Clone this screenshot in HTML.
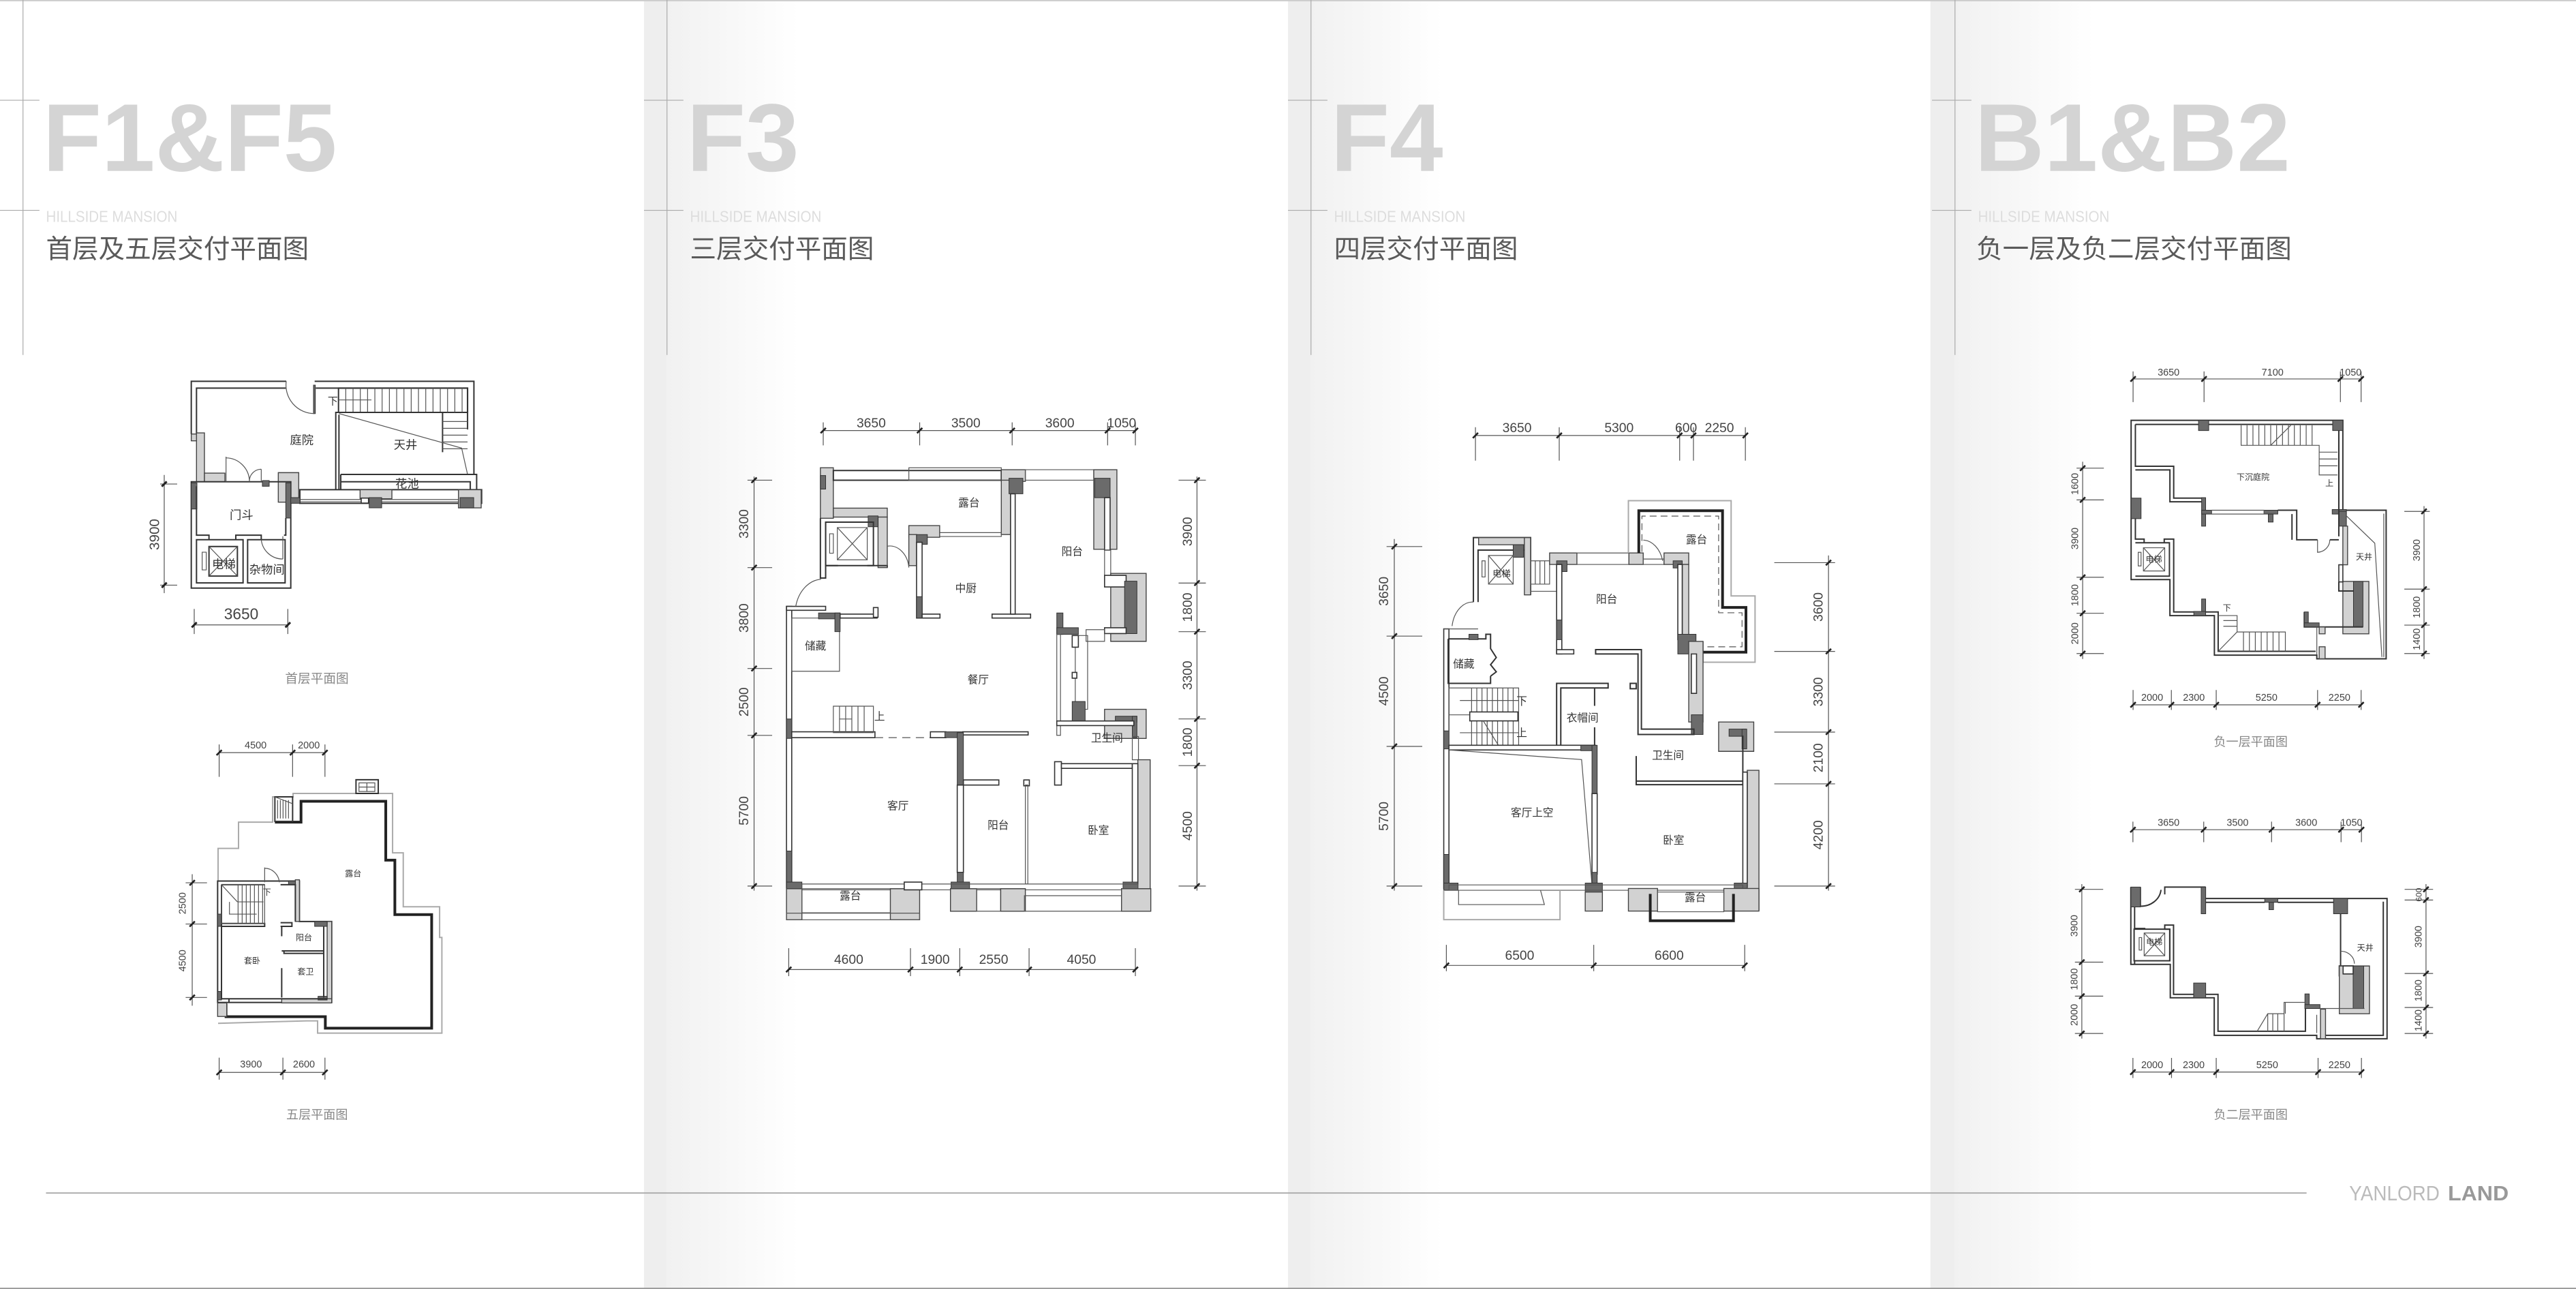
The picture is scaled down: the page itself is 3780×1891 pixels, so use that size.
<!DOCTYPE html>
<html><head><meta charset="utf-8"><style>
html,body{margin:0;padding:0;background:#fff}
svg{display:block}
.l{fill:none;stroke:#333;stroke-width:2;vector-effect:non-scaling-stroke}
.t{fill:none;stroke:#555;stroke-width:1.2;vector-effect:non-scaling-stroke}
.g{fill:none;stroke:#aaa;stroke-width:2;vector-effect:non-scaling-stroke}
.w{fill:#fff;stroke:#333;stroke-width:1.6;vector-effect:non-scaling-stroke}
.h{fill:#d2d2d2;stroke:#444;stroke-width:1.4;vector-effect:non-scaling-stroke}
.k{fill:#6b6b6b;stroke:#333;stroke-width:1;vector-effect:non-scaling-stroke}
.rl{fill:none;stroke:#222;stroke-width:4;vector-effect:non-scaling-stroke}
.dm{stroke:#555;stroke-width:0.5;fill:none}
.tk{stroke:#222;stroke-width:1.1}
text{font-family:"Liberation Sans","Noto Sans CJK SC",sans-serif}
.lb{fill:#333;font-size:6.5px;text-anchor:middle;dominant-baseline:central}
.ls{fill:#333;font-size:5px;text-anchor:middle;dominant-baseline:central}
.dn{fill:#444;font-size:8px;text-anchor:middle}
.ds{fill:#444;font-size:6px;text-anchor:middle}
.cap{fill:#888;font-size:7.5px;text-anchor:middle}
.big{fill:#d4d4d4;font-size:58.6px;font-weight:bold}
.hm{fill:#ddd;font-size:9.5px}
.sub{fill:#5a5a5a;font-size:16px}
</style></head><body>
<svg width="3780" height="1891" viewBox="0 0 1568 784.4" preserveAspectRatio="none" xmlns="http://www.w3.org/2000/svg">
<defs>
<linearGradient id="pg" x1="0" x2="1" y1="0" y2="0"><stop offset="0" stop-color="#f1f1f1"/><stop offset="1" stop-color="#fff"/></linearGradient>
<path id="tk" d="M-1.6 1.6L1.6 -1.6" class="tk"/>
</defs>
<rect x="0" y="0" width="1568" height="784.4" fill="#fff"/>
<!-- panel shading -->
<rect x="392" y="0" width="14" height="784.4" fill="#eee"/><rect x="406" y="0" width="80" height="784.4" fill="url(#pg)"/>
<rect x="784" y="0" width="14" height="784.4" fill="#eee"/><rect x="798" y="0" width="80" height="784.4" fill="url(#pg)"/>
<rect x="1175" y="0" width="15" height="784.4" fill="#eee"/><rect x="1190" y="0" width="85" height="784.4" fill="url(#pg)"/>
<line x1="0" y1="0.4" x2="1568" y2="0.4" stroke="#ccc" stroke-width="0.8"/>
<line x1="0" y1="784" x2="1568" y2="784" stroke="#999" stroke-width="0.8"/>
<!-- header lines -->
<g stroke="#aaa" stroke-width="0.5">
<line x1="14" y1="0" x2="14" y2="216"/><line x1="0" y1="61" x2="24" y2="61"/><line x1="0" y1="128" x2="24" y2="128"/>
<line x1="406" y1="0" x2="406" y2="216"/><line x1="392" y1="61" x2="416" y2="61"/><line x1="392" y1="128" x2="416" y2="128"/>
<line x1="798" y1="0" x2="798" y2="216"/><line x1="784" y1="61" x2="808" y2="61"/><line x1="784" y1="128" x2="808" y2="128"/>
<line x1="1190" y1="0" x2="1190" y2="216"/><line x1="1176" y1="61" x2="1200" y2="61"/><line x1="1176" y1="128" x2="1200" y2="128"/>
</g>
<text class="big" x="26" y="104">F1&amp;F5</text>
<text class="big" x="418" y="104">F3</text>
<text class="big" x="810" y="104">F4</text>
<text class="big" x="1202" y="104">B1&amp;B2</text>
<text class="hm" x="28" y="135" textLength="80" lengthAdjust="spacingAndGlyphs">HILLSIDE MANSION</text>
<text class="hm" x="420" y="135" textLength="80" lengthAdjust="spacingAndGlyphs">HILLSIDE MANSION</text>
<text class="hm" x="812" y="135" textLength="80" lengthAdjust="spacingAndGlyphs">HILLSIDE MANSION</text>
<text class="hm" x="1204" y="135" textLength="80" lengthAdjust="spacingAndGlyphs">HILLSIDE MANSION</text>
<text class="sub" x="28" y="157">首层及五层交付平面图</text>
<text class="sub" x="420" y="157">三层交付平面图</text>
<text class="sub" x="812" y="157">四层交付平面图</text>
<text class="sub" x="1203" y="157">负一层及负二层交付平面图</text>
<!-- footer -->
<line x1="28" y1="726" x2="1404" y2="726" stroke="#aaa" stroke-width="0.8"/>
<text x="1430" y="730.5" font-size="12.5" fill="#bbb" font-weight="normal" textLength="55" lengthAdjust="spacingAndGlyphs">YANLORD</text>
<text x="1490" y="730.5" font-size="12.5" fill="#999" font-weight="bold" textLength="37" lengthAdjust="spacingAndGlyphs">LAND</text>

<!-- ================= F1 ================= -->
<g transform="translate(107.85 224) scale(0.1383)">
<path class="l" d="M62 290V58H480M605 58H1306V468M85 290V88H478M610 88H1278V270"/>
<rect class="k" x="600" y="75" width="8" height="125"/>
<path class="t" d="M480 58A125 125 0 0 0 605 200"/>
<rect class="l" x="710" y="88" width="568" height="107"/>
<path class="t" d="M742 88V195M774 88V195M806 88V195M838 88V195M870 88V195M902 88V195M934 88V195M966 88V195M998 88V195M1030 88V195M1062 88V195M1094 88V195M1126 88V195M1158 88V195M1190 88V195M1222 88V195M1254 88V195M710 140H855"/>
<text x="685" y="160" font-size="45" fill="#333" text-anchor="middle">下</text>
<path class="l" d="M698 535V195H1168V370M712 535V205"/>
<path class="t" d="M712 200L1252 352L1278 468M1168 235H1278M1168 265H1278M1168 295H1278M1168 325H1278M1168 355H1278"/>
<path class="l" d="M720 468H1318V535M720 500H1290V535M720 468V535"/>
<rect class="l" x="540" y="535" width="800" height="60"/>
<path class="t" d="M540 578H1340M540 588H1340"/>
<rect class="h" x="805" y="535" width="140" height="40"/><rect class="h" x="1238" y="535" width="100" height="80"/>
<rect class="k" x="845" y="570" width="55" height="45"/><rect class="k" x="1245" y="570" width="60" height="45"/>
<rect class="w" x="810" y="572" width="32" height="22"/>
<rect class="h" x="85" y="285" width="35" height="215"/><rect class="h" x="120" y="462" width="90" height="38"/><rect class="h" x="62" y="290" width="23" height="30"/>
<rect class="h" x="445" y="460" width="90" height="130"/>
<rect class="l" x="62" y="500" width="438" height="468"/>
<rect class="k" x="62" y="505" width="25" height="115"/><rect class="k" x="478" y="505" width="22" height="155"/><rect class="k" x="500" y="570" width="40" height="25"/>
<rect class="k" x="375" y="495" width="30" height="25"/>
<path class="l" d="M85 520V735H140V755M478 660V735H470M258 755V735H370V755"/>
<rect class="l" x="85" y="755" width="205" height="190"/><rect class="l" x="310" y="755" width="165" height="190"/>
<rect class="l" x="140" y="785" width="125" height="130"/><path class="t" d="M140 785L265 915M265 785L140 915"/>
<rect class="t" x="110" y="810" width="18" height="78"/>
<path class="t" d="M215 390V500M215 395A105 105 0 0 1 318 500M370 445V500M318 500A52 52 0 0 1 370 445M370 755A95 95 0 0 0 465 840M465 740V840"/>
<g fill="#333" font-size="52" text-anchor="middle">
<text x="548" y="335">庭院</text><text x="1005" y="355">天井</text><text x="1012" y="527">花池</text>
<text x="283" y="665">门斗</text><text x="205" y="880">电梯</text><text x="395" y="905">杂物间</text>
</g>
<path class="t" d="M75 1130H487M75 1060V1170M487 1060V1170M-57 470V990M-75 510H0M-75 955H0"/>
<path d="M64 1141L86 1119M476 1141L498 1119M-68 521L-46 499M-68 966L-46 944" stroke="#222" stroke-width="9"/>
<text x="282" y="1105" font-size="68" fill="#444" text-anchor="middle">3650</text>
<text transform="translate(-80 732) rotate(-90)" font-size="62" fill="#444" text-anchor="middle">3900</text>
<text x="615" y="1385" font-size="56" fill="#888" text-anchor="middle">首层平面图</text>
</g>

<!-- ================= F5 ================= -->
<g transform="translate(120.3 445.8) scale(0.1383 0.1493)">
<path class="g" d="M90 605V472H180V365H330V262H420V248H858V490H905V710H1065V835H1075V1225H528V1175H480L90 1185"/>
<path class="rl" d="M340 365H455V280H828V520H868V742H1030V1205H562V1158H125V1105"/>
<rect class="l" x="697" y="192" width="98" height="56"/><rect class="t" x="710" y="205" width="70" height="35"/>
<path class="t" d="M745 205V240M710 222H780"/>
<rect class="l" x="340" y="262" width="78" height="100"/>
<path class="t" d="M352 275V350M364 275V350M376 275V350M388 275V350M400 275V350M340 262L418 290"/>
<path class="l" d="M88 605H448V770H590V1100H88Z"/>
<rect class="h" x="430" y="600" width="18" height="170"/><rect class="h" x="570" y="770" width="20" height="330"/>
<rect class="h" x="370" y="1085" width="220" height="17"/><rect class="h" x="88" y="1102" width="40" height="55"/>
<rect class="k" x="88" y="740" width="17" height="50"/><rect class="k" x="88" y="1055" width="17" height="35"/><rect class="k" x="400" y="605" width="30" height="15"/>
<rect class="k" x="515" y="770" width="55" height="20"/><rect class="k" x="530" y="1075" width="40" height="15"/>
<path class="l" d="M105 620V1085H570M105 620H295M365 620H430V770M105 778H295V790H105M365 775H415V790H365M370 790V830M370 890H555V900H380V890M370 960V1080M555 790V1080M138 1085V1100"/>
<rect class="t" x="105" y="620" width="190" height="158"/>
<path class="t" d="M178 620V778M196 620V778M214 620V778M232 620V778M250 620V778M268 620V778M286 620V778M105 620L175 690M175 690H290M140 690V740H260"/>
<path class="t" d="M295 550V610M295 553A65 65 0 0 1 360 610"/>
</g>
<g class="ls"><text x="215" y="531.6">露台</text><text x="185" y="570.5">阳台</text><text x="153.5" y="584.7">套卧</text><text x="186" y="591.4">套卫</text><text x="162.5" y="543">下</text></g>
<path class="dm" d="M133.4 458H197.8M133.4 453V472.7M178.1 453V472.7M197.8 453V472.7M133.4 652.6H197.8M133.4 643.6V657M172.2 643.6V657M197.8 643.6V657M117 532V612M113 537.2H126M113 562.3H126M113 607H126"/>
<use href="#tk" x="133.4" y="458"/><use href="#tk" x="178.1" y="458"/><use href="#tk" x="197.8" y="458"/>
<use href="#tk" x="133.4" y="652.6"/><use href="#tk" x="172.2" y="652.6"/><use href="#tk" x="197.8" y="652.6"/>
<use href="#tk" x="117" y="537.2"/><use href="#tk" x="117" y="562.3"/><use href="#tk" x="117" y="607"/>
<g class="ds"><text x="155.6" y="455.5">4500</text><text x="188" y="455.5">2000</text><text x="152.8" y="649.5">3900</text><text x="185" y="649.5">2600</text>
<text transform="translate(113 549.7) rotate(-90)">2500</text><text transform="translate(113 584.6) rotate(-90)">4500</text></g>
<text class="cap" x="193" y="681">五层平面图</text>

<!-- ================= F3 ================= -->
<g transform="translate(456.6 235.5) scale(0.1876 0.2363)">
<rect class="h" x="228" y="208" width="42" height="130"/><rect class="h" x="270" y="312" width="175" height="23"/><rect class="h" x="415" y="335" width="30" height="130"/>
<rect class="k" x="228" y="228" width="17" height="35"/><rect class="k" x="383" y="332" width="32" height="28"/>
<path class="l" d="M228 338V492H245V460H285M380 460H445V465M245 348V460"/>
<rect class="l" x="245" y="348" width="155" height="112"/>
<rect class="t" x="283" y="362" width="97" height="83"/><path class="t" d="M283 362L380 445M380 362L283 445"/><rect class="t" x="258" y="378" width="12" height="50"/>
<rect class="l" x="270" y="215" width="545" height="25"/><rect class="t" x="515" y="208" width="300" height="32"/>
<rect class="h" x="815" y="213" width="78" height="30"/><rect class="h" x="815" y="240" width="30" height="140"/><rect class="k" x="840" y="235" width="45" height="40"/>
<rect class="h" x="515" y="357" width="100" height="30"/><rect class="h" x="515" y="380" width="25" height="80"/><rect class="k" x="540" y="380" width="35" height="25"/>
<rect class="w" x="540" y="400" width="18" height="195"/><rect class="k" x="540" y="540" width="18" height="55"/>
<rect class="w" x="558" y="585" width="58" height="10"/><rect class="w" x="785" y="585" width="125" height="10"/><rect class="w" x="845" y="275" width="15" height="310"/>
<rect class="t" x="615" y="375" width="200" height="10"/>
<rect class="t" x="893" y="213" width="222" height="27"/><rect class="h" x="1115" y="213" width="75" height="205"/><rect class="k" x="1118" y="235" width="50" height="50"/>
<rect class="w" x="1150" y="285" width="18" height="135"/><rect class="t" x="1150" y="420" width="20" height="70"/>
<rect class="h" x="1170" y="480" width="115" height="175"/><rect class="w" x="1150" y="485" width="70" height="30"/><rect class="k" x="1215" y="500" width="40" height="135"/>
<rect class="w" x="1150" y="620" width="70" height="15"/><rect class="k" x="995" y="582" width="20" height="55"/><rect class="k" x="995" y="620" width="70" height="17"/>
<rect class="t" x="1090" y="625" width="60" height="30"/>
<rect class="t" x="995" y="637" width="12" height="260"/><rect class="t" x="1055" y="640" width="40" height="190"/>
<rect class="w" x="1045" y="640" width="20" height="30"/><rect class="w" x="1045" y="735" width="15" height="15"/><rect class="k" x="1045" y="810" width="42" height="50"/>
<rect class="h" x="1150" y="830" width="135" height="75"/><rect class="k" x="1185" y="848" width="70" height="15"/><rect class="k" x="1240" y="848" width="15" height="55"/>
<rect class="w" x="995" y="860" width="250" height="12"/><rect class="t" x="1240" y="900" width="20" height="60"/>
<rect class="w" x="988" y="965" width="22" height="60"/><rect class="w" x="1010" y="970" width="230" height="12"/>
<rect class="h" x="1258" y="960" width="40" height="390"/><rect class="w" x="1240" y="970" width="18" height="310"/><rect class="k" x="1210" y="1275" width="48" height="30"/>
<rect class="w" x="118" y="565" width="17" height="725"/><rect class="k" x="118" y="855" width="17" height="50"/><rect class="k" x="118" y="1195" width="17" height="95"/><rect class="k" x="118" y="1275" width="50" height="20"/>
<rect class="t" x="135" y="595" width="155" height="137"/><rect class="w" x="118" y="565" width="127" height="10"/>
<rect class="k" x="222" y="582" width="70" height="15"/><rect class="k" x="275" y="582" width="17" height="48"/><rect class="w" x="292" y="585" width="120" height="10"/><rect class="w" x="400" y="568" width="15" height="25"/>
<path class="t" d="M148 565A90 90 0 0 1 230 495M445 410A62 62 0 0 1 515 465M445 410V465"/>
<rect class="w" x="135" y="888" width="270" height="15"/><path class="t" d="M405 903H585" stroke-dasharray="12 8"/>
<rect class="w" x="585" y="888" width="50" height="15"/><rect class="k" x="632" y="888" width="58" height="15"/><rect class="w" x="690" y="888" width="212" height="8"/>
<rect class="k" x="672" y="890" width="20" height="135"/><rect class="w" x="672" y="1025" width="20" height="225"/><rect class="k" x="672" y="1250" width="20" height="45"/><rect class="k" x="652" y="1275" width="60" height="20"/>
<rect class="w" x="692" y="1012" width="115" height="13"/><rect class="w" x="888" y="1012" width="18" height="15"/><rect class="t" x="893" y="1025" width="8" height="255"/>
<rect class="t" x="270" y="822" width="130" height="68"/><path class="t" d="M290 822V890M310 822V890M330 822V890M350 822V890M370 822V890M290 855H330"/>
<rect class="t" x="168" y="1280" width="1090" height="15"/>
<rect class="h" x="118" y="1292" width="50" height="80"/><rect class="t" x="168" y="1292" width="335" height="62"/><rect class="h" x="455" y="1292" width="95" height="80"/><rect class="t" x="118" y="1355" width="432" height="17"/>
<rect class="w" x="500" y="1275" width="57" height="20"/>
<rect class="h" x="650" y="1292" width="85" height="58"/><rect class="t" x="735" y="1292" width="78" height="58"/><rect class="h" x="813" y="1292" width="80" height="58"/><rect class="t" x="890" y="1310" width="320" height="40"/><rect class="h" x="1205" y="1292" width="95" height="58"/>
</g>
<g class="lb"><text x="589.8" y="306.4">露台</text><text x="652.6" y="335.9">阳台</text><text x="587.9" y="358.4">中厨</text><text x="496.4" y="393.4">储藏</text>
<text x="595.4" y="413.9">餐厅</text><text x="535.4" y="436.4">上</text><text x="673.8" y="449.4">卫生间</text><text x="546.6" y="490.7">客厅</text>
<text x="607.6" y="502.5">阳台</text><text x="668.6" y="505.6">卧室</text><text x="517.6" y="545.5">露台</text></g>
<path class="dm" d="M501.1 262H691.1M501.1 257V271M559.8 257V271M616.1 257V271M674.2 257V271M691.1 257V271
M728.6 290V542M717.4 292.2H734M717.4 354.8H734M717.4 384.4H734M717.4 437.5H734M717.4 465.9H734M717.4 539.2H734
M459 290V542M455 292.2H470M455 345.4H470M455 406.8H470M455 447.5H470M455 539.2H470
M480.1 590H691.1M480.1 577V594M554.2 577V594M584.2 577V594M626.4 577V594M691.1 577V594"/>
<use href="#tk" x="501.1" y="262"/><use href="#tk" x="559.8" y="262"/><use href="#tk" x="616.1" y="262"/><use href="#tk" x="674.2" y="262"/><use href="#tk" x="691.1" y="262"/>
<use href="#tk" x="728.6" y="292.2"/><use href="#tk" x="728.6" y="354.8"/><use href="#tk" x="728.6" y="384.4"/><use href="#tk" x="728.6" y="437.5"/><use href="#tk" x="728.6" y="465.9"/><use href="#tk" x="728.6" y="539.2"/>
<use href="#tk" x="459" y="292.2"/><use href="#tk" x="459" y="345.4"/><use href="#tk" x="459" y="406.8"/><use href="#tk" x="459" y="447.5"/><use href="#tk" x="459" y="539.2"/>
<use href="#tk" x="480.1" y="590"/><use href="#tk" x="554.2" y="590"/><use href="#tk" x="584.2" y="590"/><use href="#tk" x="626.4" y="590"/><use href="#tk" x="691.1" y="590"/>
<g class="dn"><text x="530.3" y="260">3650</text><text x="587.9" y="260">3500</text><text x="645.1" y="260">3600</text><text x="682.7" y="260">1050</text>
<text x="516.6" y="586.5">4600</text><text x="569.2" y="586.5">1900</text><text x="604.8" y="586.5">2550</text><text x="658.3" y="586.5">4050</text>
<text transform="translate(725.5 323.5) rotate(-90)">3900</text><text transform="translate(725.5 369.6) rotate(-90)">1800</text><text transform="translate(725.5 411) rotate(-90)">3300</text><text transform="translate(725.5 451.7) rotate(-90)">1800</text><text transform="translate(725.5 502.6) rotate(-90)">4500</text>
<text transform="translate(455.5 318.8) rotate(-90)">3300</text><text transform="translate(455.5 376.1) rotate(-90)">3800</text><text transform="translate(455.5 427.2) rotate(-90)">2500</text><text transform="translate(455.5 493.4) rotate(-90)">5700</text></g>

<!-- ================= F4 ================= -->
<g transform="translate(834.8 247.6) scale(0.1583 0.2179)">
<path class="l" d="M392 545V365H612V525M410 545V400H590V515"/>
<rect class="h" x="412" y="365" width="200" height="20"/><rect class="h" x="588" y="365" width="24" height="160"/><rect class="k" x="545" y="385" width="40" height="35"/>
<rect class="t" x="450" y="415" width="95" height="80"/><path class="t" d="M450 415L545 495M545 415L450 495"/><rect class="t" x="425" y="430" width="12" height="45"/>
<rect class="t" x="612" y="430" width="73" height="65"/><path class="t" d="M630 430V495M648 430V495M666 430V495M612 515H710"/>
<rect class="h" x="685" y="408" width="105" height="32"/><rect class="t" x="790" y="408" width="200" height="32"/><rect class="h" x="990" y="408" width="55" height="32"/><rect class="t" x="1045" y="425" width="80" height="15"/><rect class="h" x="1125" y="408" width="95" height="32"/>
<rect class="k" x="712" y="430" width="40" height="30"/><rect class="k" x="1160" y="430" width="35" height="20"/>
<rect class="w" x="712" y="440" width="20" height="250"/><rect class="k" x="712" y="595" width="20" height="55"/><rect class="w" x="712" y="678" width="66" height="12"/>
<rect class="h" x="1195" y="440" width="25" height="215"/><rect class="w" x="1178" y="440" width="17" height="210"/><rect class="k" x="1178" y="635" width="70" height="55"/>
<path class="g" d="M988 408V262H1383V528H1475V713H1275V655"/>
<path class="rl" d="M1028 408V290H1350V560H1440V685H1245"/>
<path class="t" d="M1040 405V305H1335V575H1425V670H1250" stroke-dasharray="10 6"/>
<path class="t" d="M1045 372A80 80 0 0 1 1120 430"/>
<rect class="h" x="1220" y="655" width="55" height="225"/><rect class="w" x="1230" y="690" width="20" height="110"/><rect class="k" x="1230" y="860" width="45" height="55"/>
<rect class="w" x="278" y="620" width="20" height="725"/><rect class="k" x="278" y="905" width="20" height="50"/><rect class="k" x="278" y="1250" width="20" height="95"/><rect class="k" x="278" y="1330" width="55" height="20"/>
<path class="t" d="M310 612A80 80 0 0 1 392 545M278 620H410"/>
<path class="l" d="M295 648V772H458V752M295 648H440V635H458V675L480 700L458 720L480 740L458 752"/><rect class="k" x="375" y="635" width="35" height="15"/>
<rect class="t" x="298" y="785" width="268" height="160"/>
<path class="t" d="M385 785V945M405 785V945M425 785V945M445 785V945M465 785V945M485 785V945M505 785V945M525 785V945M545 785V945M298 860H380M340 820H566M340 910H566"/>
<rect class="w" x="378" y="852" width="185" height="25"/><path class="t" d="M430 877L488 945"/>
<rect class="w" x="298" y="945" width="562" height="13"/><rect class="k" x="805" y="945" width="60" height="15"/>
<path class="t" d="M298 958L808 985L848 1335"/>
<rect class="k" x="848" y="945" width="20" height="135"/><rect class="w" x="848" y="1080" width="20" height="225"/><rect class="k" x="848" y="1300" width="20" height="50"/><rect class="k" x="822" y="1330" width="66" height="25"/>
<path class="l" d="M712 945V772H910V785H728V945M858 785V835M858 895V945"/>
<path class="l" d="M862 678H1038V900H1240V915H1025V690H862ZM995 772H1018V787H995Z"/>
<rect class="h" x="1335" y="880" width="135" height="82"/><rect class="k" x="1375" y="900" width="65" height="20"/><rect class="k" x="1425" y="900" width="18" height="55"/>
<path class="l" d="M1018 975V1055H1428V918M1018 1045H1428"/>
<rect class="h" x="1445" y="1015" width="45" height="390"/><rect class="w" x="1428" y="1020" width="17" height="320"/><rect class="k" x="1395" y="1330" width="50" height="30"/>
<rect class="t" x="298" y="1335" width="1130" height="15"/>
<path class="g" d="M278 1350V1432H725V1350"/><path class="t" d="M335 1350V1390H665L650 1350"/>
<rect class="h" x="822" y="1355" width="66" height="53"/><rect class="h" x="988" y="1345" width="112" height="63"/><rect class="h" x="1355" y="1345" width="135" height="63"/>
<path class="rl" d="M1072 1360V1435H1392V1360"/><rect class="t" x="1100" y="1355" width="255" height="55"/>
</g>
<g class="lb"><text x="914" y="349" font-size="5.5">电梯</text><text x="978" y="365">阳台</text><text x="1032.7" y="328.7">露台</text><text x="891" y="404.5">储藏</text>
<text x="926.3" y="427">下</text><text x="926.3" y="446.3">上</text><text x="963.3" y="437.2">衣帽间</text><text x="1015.3" y="460">卫生间</text>
<text x="932.6" y="494.9">客厅上空</text><text x="1018.7" y="511.7">卧室</text><text x="1031.9" y="546.6">露台</text></g>
<path class="dm" d="M898.1 265H1062.4M898.1 260V280.3M949.1 260V280.3M1022.4 260V280.3M1030.8 260V280.3M1062.4 260V280.3
M848.7 328V542M844 332.6H865.7M844 387.1H865.7M844 454.2H865.7M844 539.2H865.7
M1113 338V542M1080 342.4H1117M1080 396.4H1117M1080 445.5H1117M1080 477H1117M1080 539.2H1117
M880.4 587.5H1062M880.4 575V591M970.1 575V591M1062 575V591"/>
<use href="#tk" x="898.1" y="265"/><use href="#tk" x="949.1" y="265"/><use href="#tk" x="1022.4" y="265"/><use href="#tk" x="1030.8" y="265"/><use href="#tk" x="1062.4" y="265"/>
<use href="#tk" x="848.7" y="332.6"/><use href="#tk" x="848.7" y="387.1"/><use href="#tk" x="848.7" y="454.2"/><use href="#tk" x="848.7" y="539.2"/>
<use href="#tk" x="1113" y="342.4"/><use href="#tk" x="1113" y="396.4"/><use href="#tk" x="1113" y="445.5"/><use href="#tk" x="1113" y="477"/><use href="#tk" x="1113" y="539.2"/>
<use href="#tk" x="880.4" y="587.5"/><use href="#tk" x="970.1" y="587.5"/><use href="#tk" x="1062" y="587.5"/>
<g class="dn"><text x="923.4" y="263">3650</text><text x="985.5" y="263">5300</text><text x="1026.3" y="263">600</text><text x="1046.6" y="263">2250</text>
<text x="925" y="584">6500</text><text x="1016" y="584">6600</text>
<text transform="translate(845 359.8) rotate(-90)">3650</text><text transform="translate(845 420.6) rotate(-90)">4500</text><text transform="translate(845 496.7) rotate(-90)">5700</text>
<text transform="translate(1109.5 369.4) rotate(-90)">3600</text><text transform="translate(1109.5 421) rotate(-90)">3300</text><text transform="translate(1109.5 461.2) rotate(-90)">2100</text><text transform="translate(1109.5 508.1) rotate(-90)">4200</text></g>

<!-- ================= B1 ================= -->
<g transform="translate(1254 215.6) scale(0.144 0.1385)">
<path class="l" d="M300 290H1195V685H1378V1338H1085V1322H652V1148H464V990H300Z"/>
<path class="l" d="M318 308H1178V685M318 308V492H480V632H615M318 508H464V648H600M318 722V812H355V828M440 828V812H480V1132H565M318 828H462V975H318"/>
<rect class="k" x="585" y="290" width="43" height="45"/><rect class="k" x="1152" y="290" width="43" height="45"/><rect class="k" x="300" y="632" width="42" height="90"/>
<rect class="k" x="598" y="630" width="17" height="125"/><rect class="k" x="598" y="685" width="42" height="17"/><rect class="k" x="862" y="685" width="58" height="17"/><rect class="k" x="880" y="702" width="20" height="35"/>
<rect class="k" x="1150" y="682" width="60" height="20"/><rect class="k" x="1178" y="690" width="32" height="65"/>
<rect class="t" x="640" y="685" width="222" height="17"/><path class="l" d="M920 685H1000V815H1088M980 702V815M1140 815H1178M1178 335V800"/>
<path class="t" d="M1088 815V870A55 55 0 0 0 1140 815"/>
<rect class="t" x="352" y="850" width="90" height="102"/><path class="t" d="M352 850L442 952M442 850L352 952"/><rect class="t" x="330" y="870" width="12" height="60"/>
<path class="t" d="M765 312V400H1095V530H1172M790 312V400M815 312V400M840 312V400M865 312V400M890 312V400M915 312V400M940 312V400M965 312V400M990 312V400M1015 312V400M1040 312V400M1065 312V400M1095 430H1172M1095 460H1172M1095 490H1172M890 400L975 312"/>
<rect class="h" x="1195" y="755" width="20" height="170"/><rect class="h" x="1195" y="998" width="110" height="230"/>
<rect class="k" x="1240" y="998" width="40" height="200"/><rect class="w" x="1178" y="925" width="17" height="75"/>
<path class="l" d="M1178 1000V1040H1240M1032 1132V1198H1280"/><rect class="k" x="1032" y="1132" width="17" height="66"/><rect class="k" x="1032" y="1180" width="63" height="18"/>
<path class="t" d="M1210 710L1330 830L1360 1330M1368 700V1330"/>
<rect class="k" x="598" y="1075" width="17" height="73"/><rect class="k" x="565" y="1130" width="50" height="18"/>
<path class="l" d="M615 1132H668V1305H1080"/>
<path class="t" d="M668 1148H748V1220H952V1305M668 1305L748 1220M690 1170H748M690 1195H748M775 1220V1305M800 1220V1305M825 1220V1305M850 1220V1305M875 1220V1305M900 1220V1305M925 1220V1305"/>
<rect class="h" x="1095" y="1198" width="25" height="30"/><rect class="h" x="1095" y="1285" width="25" height="53"/><path class="t" d="M1085 1198V1320"/>
</g>
<g class="ls"><text x="1371.4" y="290.4">下沉庭院</text><text x="1311" y="340.3">电梯</text><text x="1439" y="338.9">天井</text><text x="1355.5" y="370">下</text><text x="1417.9" y="294">上</text></g>
<path class="dm" d="M1298.4 230.6H1437.2M1298.4 226V244.7M1341.6 226V244.7M1424.6 226V244.7M1437.2 226V244.7
M1267.7 281V401M1264 284.9H1280.6M1264 304.2H1280.6M1264 351.3H1280.6M1264 373.2H1280.6M1264 397.7H1280.6
M1475.5 308V401M1463.5 311.2H1479M1463.5 358.5H1479M1463.5 380.4H1479M1463.5 397.7H1479
M1298.4 428.9H1437.2M1298.4 419.9V432M1321.7 419.9V432M1349 419.9V432M1410.7 419.9V432M1437.2 419.9V432"/>
<use href="#tk" x="1298.4" y="230.6"/><use href="#tk" x="1341.6" y="230.6"/><use href="#tk" x="1424.6" y="230.6"/><use href="#tk" x="1437.2" y="230.6"/>
<use href="#tk" x="1267.7" y="284.9"/><use href="#tk" x="1267.7" y="304.2"/><use href="#tk" x="1267.7" y="351.3"/><use href="#tk" x="1267.7" y="373.2"/><use href="#tk" x="1267.7" y="397.7"/>
<use href="#tk" x="1475.5" y="311.2"/><use href="#tk" x="1475.5" y="358.5"/><use href="#tk" x="1475.5" y="380.4"/><use href="#tk" x="1475.5" y="397.7"/>
<use href="#tk" x="1298.4" y="428.9"/><use href="#tk" x="1321.7" y="428.9"/><use href="#tk" x="1349" y="428.9"/><use href="#tk" x="1410.7" y="428.9"/><use href="#tk" x="1437.2" y="428.9"/>
<g class="ds"><text x="1320" y="228.5">3650</text><text x="1383.3" y="228.5">7100</text><text x="1430.8" y="228.5">1050</text>
<text x="1310" y="426.5">2000</text><text x="1335.4" y="426.5">2300</text><text x="1379.6" y="426.5">5250</text><text x="1424" y="426.5">2250</text>
<text transform="translate(1265 294.5) rotate(-90)">1600</text><text transform="translate(1265 327.7) rotate(-90)">3900</text><text transform="translate(1265 362.2) rotate(-90)">1800</text><text transform="translate(1265 385.5) rotate(-90)">2000</text>
<text transform="translate(1473 334.8) rotate(-90)">3900</text><text transform="translate(1473 369.5) rotate(-90)">1800</text><text transform="translate(1473 389) rotate(-90)">1400</text></g>
<text class="cap" x="1370" y="454">负一层平面图</text>

<!-- ================= B2 ================= -->
<g transform="translate(1250.4 484.8) scale(0.1529 0.1383)">
<path class="l" d="M305 398V738H462V885H637V1050H1045V1065H1325V448H1165M1310 462V1050H1060M320 485V580H360V585M320 738V722H460V583H440V565H475V870H555M603 870H652V1032H1000V932M343 398V482A80 80 0 0 0 425 410M440 430V398H600V415H590M603 448H1165M603 465H838M890 465H1112"/>
<rect class="k" x="305" y="398" width="38" height="87"/><rect class="k" x="585" y="398" width="18" height="117"/>
<rect class="k" x="838" y="448" width="52" height="17"/><rect class="k" x="855" y="465" width="18" height="32"/><rect class="k" x="1112" y="448" width="56" height="67"/>
<rect class="k" x="555" y="820" width="48" height="65"/><rect class="k" x="998" y="868" width="17" height="64"/><rect class="k" x="998" y="915" width="60" height="17"/>
<rect class="t" x="358" y="600" width="82" height="100"/><path class="t" d="M358 600L440 700M440 600L358 700"/><rect class="t" x="338" y="620" width="10" height="55"/>
<rect class="l" x="318" y="583" width="142" height="139"/>
<path class="l" d="M1140 515V745M1135 745H1190V788H1135Z"/><path class="t" d="M1140 680A55 55 0 0 1 1195 735"/>
<rect class="h" x="1135" y="745" width="120" height="210"/><rect class="k" x="1190" y="745" width="42" height="187"/><rect class="w" x="1150" y="745" width="40" height="35"/>
<path class="t" d="M1058 932H1235M1060 932V1065M1045 960V1040M808 1032L850 955H915V905H998M850 955V1032M870 955V1032M890 955V1032M915 955V1032M920 905V955"/>
<rect class="h" x="1060" y="935" width="20" height="130"/>
</g>
<g class="ls"><text x="1311.3" y="573.3">电梯</text><text x="1439.7" y="576.8">天井</text></g>
<path class="dm" d="M1298.3 504.9H1437.4M1298.3 500V512.5M1341.4 500V512.5M1382.7 500V512.5M1425 500V512.5M1437.4 500V512.5
M1267.2 538V632M1263 541.2H1280.2M1263 585.5H1280.2M1263 606.2H1280.2M1263 628.9H1280.2
M1476.7 538V632M1463.7 541.2H1481M1463.7 547.7H1481M1463.7 592.4H1481M1463.7 613.1H1481M1463.7 628.9H1481
M1298.3 652.4H1437.4M1298.3 643.8V656M1321.8 643.8V656M1349 643.8V656M1411 643.8V656M1437.4 643.8V656"/>
<use href="#tk" x="1298.3" y="504.9"/><use href="#tk" x="1341.4" y="504.9"/><use href="#tk" x="1382.7" y="504.9"/><use href="#tk" x="1425" y="504.9"/><use href="#tk" x="1437.4" y="504.9"/>
<use href="#tk" x="1267.2" y="541.2"/><use href="#tk" x="1267.2" y="585.5"/><use href="#tk" x="1267.2" y="606.2"/><use href="#tk" x="1267.2" y="628.9"/>
<use href="#tk" x="1476.7" y="541.2"/><use href="#tk" x="1476.7" y="547.7"/><use href="#tk" x="1476.7" y="592.4"/><use href="#tk" x="1476.7" y="613.1"/><use href="#tk" x="1476.7" y="628.9"/>
<use href="#tk" x="1298.3" y="652.4"/><use href="#tk" x="1321.8" y="652.4"/><use href="#tk" x="1349" y="652.4"/><use href="#tk" x="1411" y="652.4"/><use href="#tk" x="1437.4" y="652.4"/>
<g class="ds"><text x="1320" y="502.5">3650</text><text x="1362" y="502.5">3500</text><text x="1403.8" y="502.5">3600</text><text x="1431.3" y="502.5">1050</text>
<text x="1310" y="650">2000</text><text x="1335.3" y="650">2300</text><text x="1380" y="650">5250</text><text x="1424" y="650">2250</text>
<text transform="translate(1264.5 563.4) rotate(-90)">3900</text><text transform="translate(1264.5 595.9) rotate(-90)">1800</text><text transform="translate(1264.5 617.6) rotate(-90)">2000</text>
<text transform="translate(1474 544.5) rotate(-90)" font-size="5">600</text><text transform="translate(1474 570) rotate(-90)">3900</text><text transform="translate(1474 602.8) rotate(-90)">1800</text><text transform="translate(1474 621) rotate(-90)">1400</text></g>
<text class="cap" x="1370" y="681">负二层平面图</text>
</svg>
</body></html>
